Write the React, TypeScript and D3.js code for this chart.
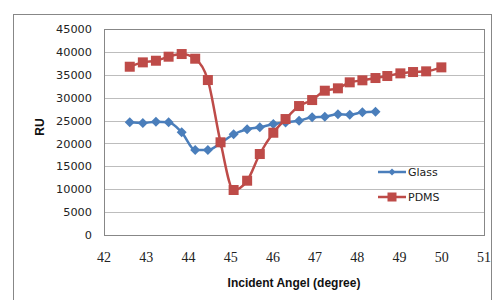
import * as d3 from "d3";
import React from "react";

const W = 493;
const H = 300;

// incident angle (degree) of each measurement
const angles = [
  42.61, 42.92, 43.23, 43.53, 43.84, 44.16, 44.46, 44.76, 45.07, 45.39,
  45.69, 46.01, 46.30, 46.62, 46.93, 47.23, 47.54, 47.82, 48.12, 48.43,
  48.71, 49.02, 49.32, 49.63, 49.99,
];
const glass = [
  24610, 24460, 24750, 24610, 22430, 18560, 18560, 20100, 21990, 23090,
  23520, 24240, 24600, 24960, 25700, 25840, 26360, 26270, 26800, 26930,
];
const pdms = [
  36760, 37710, 38070, 38950, 39530, 38510, 33850, 20250, 9830, 11860,
  17690, 22340, 25330, 28170, 29480, 31520, 32040, 33350, 33790, 34290,
  34730, 35310, 35600, 35750, 36620,
];
const xTicks = [42, 43, 44, 45, 46, 47, 48, 49, 50, 51];
const yTicks = [0, 5000, 10000, 15000, 20000, 25000, 30000, 35000, 40000, 45000];

const BLUE = "#4a7ebb";
const RED = "#be4b48";

const plot = { left: 104, top: 29, right: 484, bottom: 235 };

const diamond = (cx: number, cy: number, r: number) =>
  `M${cx},${cy - r}L${cx + r},${cy}L${cx},${cy + r}L${cx - r},${cy}Z`;

export default function App() {
  const x = d3.scaleLinear().domain([42, 51]).range([plot.left, plot.right]);
  const y = d3.scaleLinear().domain([0, 45000]).range([plot.bottom, plot.top]);

  const glassPts = glass.map((v, i) => [x(angles[i]), y(v)] as [number, number]);
  const pdmsPts = pdms.map((v, i) => [x(angles[i]), y(v)] as [number, number]);
  const line = d3.line().curve(d3.curveMonotoneX);

  return (
    <div style={{ position: "fixed", left: 0, top: 0 }}>
      <svg width={W} height={H} style={{ display: "block", background: "#fff" }}>
        {/* chart border */}
        <rect x={13.5} y={14.5} width={478} height={300} fill="none" stroke="#878787" />

        {/* grid */}
        {yTicks.map((t) => (
          <line key={t} x1={plot.left} x2={plot.right} y1={Math.round(y(t)) + 0.5} y2={Math.round(y(t)) + 0.5}
            stroke="#bdbdbd" strokeWidth={1} />
        ))}
        <rect x={plot.left + 0.5} y={plot.top + 0.5} width={plot.right - plot.left} height={plot.bottom - plot.top}
          fill="none" stroke="#878787" />

        {/* y labels */}
        {yTicks.map((t) => (
          <text key={t} x={92} y={y(t)} dy="0.36em" textAnchor="end"
            fontFamily="DejaVu Sans" fontSize={11.3} fill="#222">{t}</text>
        ))}
        {/* x labels */}
        {xTicks.map((t) => (
          <text key={t} x={x(t)} y={261.5} textAnchor="middle"
            fontFamily="Liberation Serif" fontSize={14} fill="#222">{t}</text>
        ))}

        {/* series */}
        <path d={line(glassPts) ?? ""} fill="none" stroke={BLUE} strokeWidth={2.5} />
        {glassPts.map(([cx, cy], i) => (
          <path key={i} d={diamond(cx, cy, 5)} fill={BLUE} />
        ))}
        <path d={line(pdmsPts) ?? ""} fill="none" stroke={RED} strokeWidth={2.5} />
        {pdmsPts.map(([cx, cy], i) => (
          <rect key={i} x={cx - 5} y={cy - 5} width={10} height={10} fill={RED} />
        ))}

        {/* legend */}
        <line x1={378} x2={406} y1={172} y2={172} stroke={BLUE} strokeWidth={2.5} />
        <path d={diamond(392, 172, 3.5)} fill={BLUE} />
        <text x={408} y={172} dy="0.36em" fontFamily="DejaVu Sans" fontSize={11} fill="#222">Glass</text>
        <line x1={378} x2={406} y1={197} y2={197} stroke={RED} strokeWidth={2.5} />
        <rect x={387.5} y={192.5} width={9} height={9} fill={RED} />
        <text x={408} y={197} dy="0.36em" fontFamily="DejaVu Sans" fontSize={11} fill="#222">PDMS</text>

        {/* axis titles */}
        <text x={(plot.left + plot.right) / 2} y={287} textAnchor="middle"
          fontFamily="Liberation Sans" fontWeight="bold" fontSize={12} fill="#111">Incident Angel (degree)</text>
        <text transform="translate(44,127) rotate(-90)" textAnchor="middle"
          fontFamily="Liberation Sans" fontWeight="bold" fontSize={12} fill="#111">RU</text>
      </svg>
    </div>
  );
}
